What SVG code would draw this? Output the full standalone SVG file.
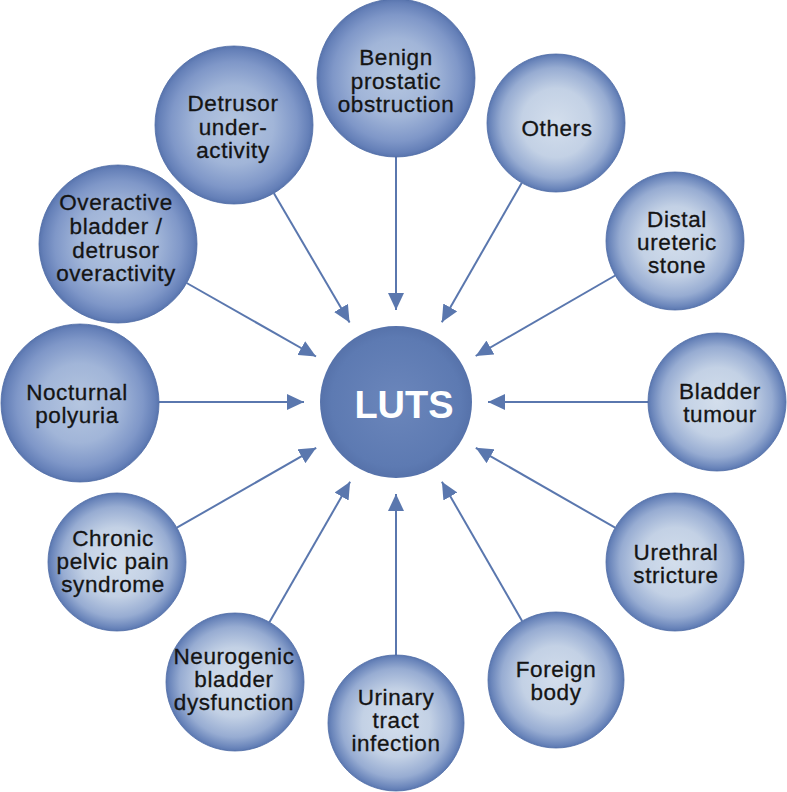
<svg xmlns="http://www.w3.org/2000/svg" width="787" height="792" viewBox="0 0 787 792">
<defs>
<radialGradient id="gSmall" cx="50%" cy="50%" r="50%">
<stop offset="0" stop-color="#d3deec"/>
<stop offset="0.5" stop-color="#c3d1e5"/>
<stop offset="0.8" stop-color="#97acd2"/>
<stop offset="0.95" stop-color="#6b86bb"/>
<stop offset="1" stop-color="#5a77b0"/>
</radialGradient>
<radialGradient id="gBig" cx="50%" cy="50%" r="50%">
<stop offset="0" stop-color="#b5c6e0"/>
<stop offset="0.5" stop-color="#a1b5d8"/>
<stop offset="0.8" stop-color="#7f97c8"/>
<stop offset="0.95" stop-color="#6580b8"/>
<stop offset="1" stop-color="#5874ad"/>
</radialGradient>
<radialGradient id="gLuts" cx="50%" cy="50%" r="50%">
<stop offset="0" stop-color="#6b86bb"/>
<stop offset="0.85" stop-color="#5d7ab2"/>
<stop offset="1" stop-color="#5672aa"/>
</radialGradient>
<marker id="ah" markerUnits="userSpaceOnUse" markerWidth="18" markerHeight="16" refX="17" refY="8" orient="auto">
<path d="M0,0 L17,8 L0,16 z" fill="#5a77ae"/>
</marker>
</defs>
<style>
.lbl{font-family:"Liberation Sans",Arial,Helvetica,sans-serif;font-size:22.5px;letter-spacing:0.6px;fill:#141414;stroke:#141414;stroke-width:0.3px;text-anchor:middle}
.sm{stroke:#4f6ca6;stroke-width:0.8;fill:url(#gSmall)}
.bg{stroke:#4f6ca6;stroke-width:0.8;fill:url(#gBig)}
.ln{stroke:#5a77ae;stroke-width:2;fill:none;marker-end:url(#ah)}
</style>
<g id="connectors">
<line class="ln" x1="396" y1="157" x2="396" y2="310"/>
<line class="ln" x1="521.7" y1="182.9" x2="441.8" y2="322.2"/>
<line class="ln" x1="615.2" y1="275.5" x2="475.7" y2="356"/>
<line class="ln" x1="648" y1="402" x2="488" y2="402"/>
<line class="ln" x1="615.1" y1="527.7" x2="475.8" y2="447.8"/>
<line class="ln" x1="522.1" y1="621.1" x2="441.9" y2="481.7"/>
<line class="ln" x1="396" y1="655" x2="396" y2="494"/>
<line class="ln" x1="269.4" y1="622.2" x2="350.1" y2="481.8"/>
<line class="ln" x1="176.9" y1="527.7" x2="316.2" y2="447.8"/>
<line class="ln" x1="159" y1="402" x2="304" y2="402"/>
<line class="ln" x1="186.7" y1="283" x2="316" y2="356.5"/>
<line class="ln" x1="273.9" y1="193.2" x2="349.6" y2="322.6"/>
</g>
<g id="luts">
<circle cx="396" cy="402" r="76" fill="url(#gLuts)"/>
<text x="404" y="418" font-family="Liberation Sans,Arial,sans-serif" font-size="38" font-weight="bold" fill="#ffffff" text-anchor="middle">LUTS</text>
</g>
<g id="benign">
<circle class="bg" cx="396" cy="78" r="79"/>
<text class="lbl"><tspan x="396" y="65">Benign</tspan><tspan x="396" y="89">prostatic</tspan><tspan x="396" y="112">obstruction</tspan></text>
</g>
<g id="others">
<circle class="sm" cx="556" cy="123" r="69"/>
<text class="lbl" x="557" y="136">Others</text>
</g>
<g id="distal">
<circle class="sm" cx="675" cy="241" r="69"/>
<text class="lbl"><tspan x="677" y="227">Distal</tspan><tspan x="677" y="250">ureteric</tspan><tspan x="677" y="273">stone</tspan></text>
</g>
<g id="bladder-tumour">
<circle class="sm" cx="717" cy="402" r="69"/>
<text class="lbl"><tspan x="720" y="399">Bladder</tspan><tspan x="720" y="422">tumour</tspan></text>
</g>
<g id="urethral">
<circle class="sm" cx="675" cy="562" r="69"/>
<text class="lbl"><tspan x="676" y="560">Urethral</tspan><tspan x="676" y="583">stricture</tspan></text>
</g>
<g id="foreign">
<circle class="sm" cx="556" cy="680" r="68"/>
<text class="lbl"><tspan x="556" y="677">Foreign</tspan><tspan x="556" y="700">body</tspan></text>
</g>
<g id="uti">
<circle class="sm" cx="396" cy="723" r="68"/>
<text class="lbl"><tspan x="396" y="705">Urinary</tspan><tspan x="396" y="728">tract</tspan><tspan x="396" y="751">infection</tspan></text>
</g>
<g id="neurogenic">
<circle class="sm" cx="235" cy="682" r="69"/>
<text class="lbl"><tspan x="234" y="664">Neurogenic</tspan><tspan x="234" y="687">bladder</tspan><tspan x="234" y="710">dysfunction</tspan></text>
</g>
<g id="chronic">
<circle class="sm" cx="117" cy="562" r="69"/>
<text class="lbl"><tspan x="113" y="546">Chronic</tspan><tspan x="113" y="569">pelvic pain</tspan><tspan x="113" y="592">syndrome</tspan></text>
</g>
<g id="nocturnal">
<circle class="bg" cx="80" cy="403" r="79"/>
<text class="lbl"><tspan x="77" y="400">Nocturnal</tspan><tspan x="77" y="423">polyuria</tspan></text>
</g>
<g id="overactive">
<circle class="bg" cx="118" cy="244" r="79"/>
<text class="lbl"><tspan x="116" y="210">Overactive</tspan><tspan x="116" y="234">bladder /</tspan><tspan x="116" y="258">detrusor</tspan><tspan x="116" y="281">overactivity</tspan></text>
</g>
<g id="detrusor">
<circle class="bg" cx="234" cy="125" r="79"/>
<text class="lbl"><tspan x="233" y="111">Detrusor</tspan><tspan x="233" y="135">under-</tspan><tspan x="233" y="158">activity</tspan></text>
</g>
</svg>
